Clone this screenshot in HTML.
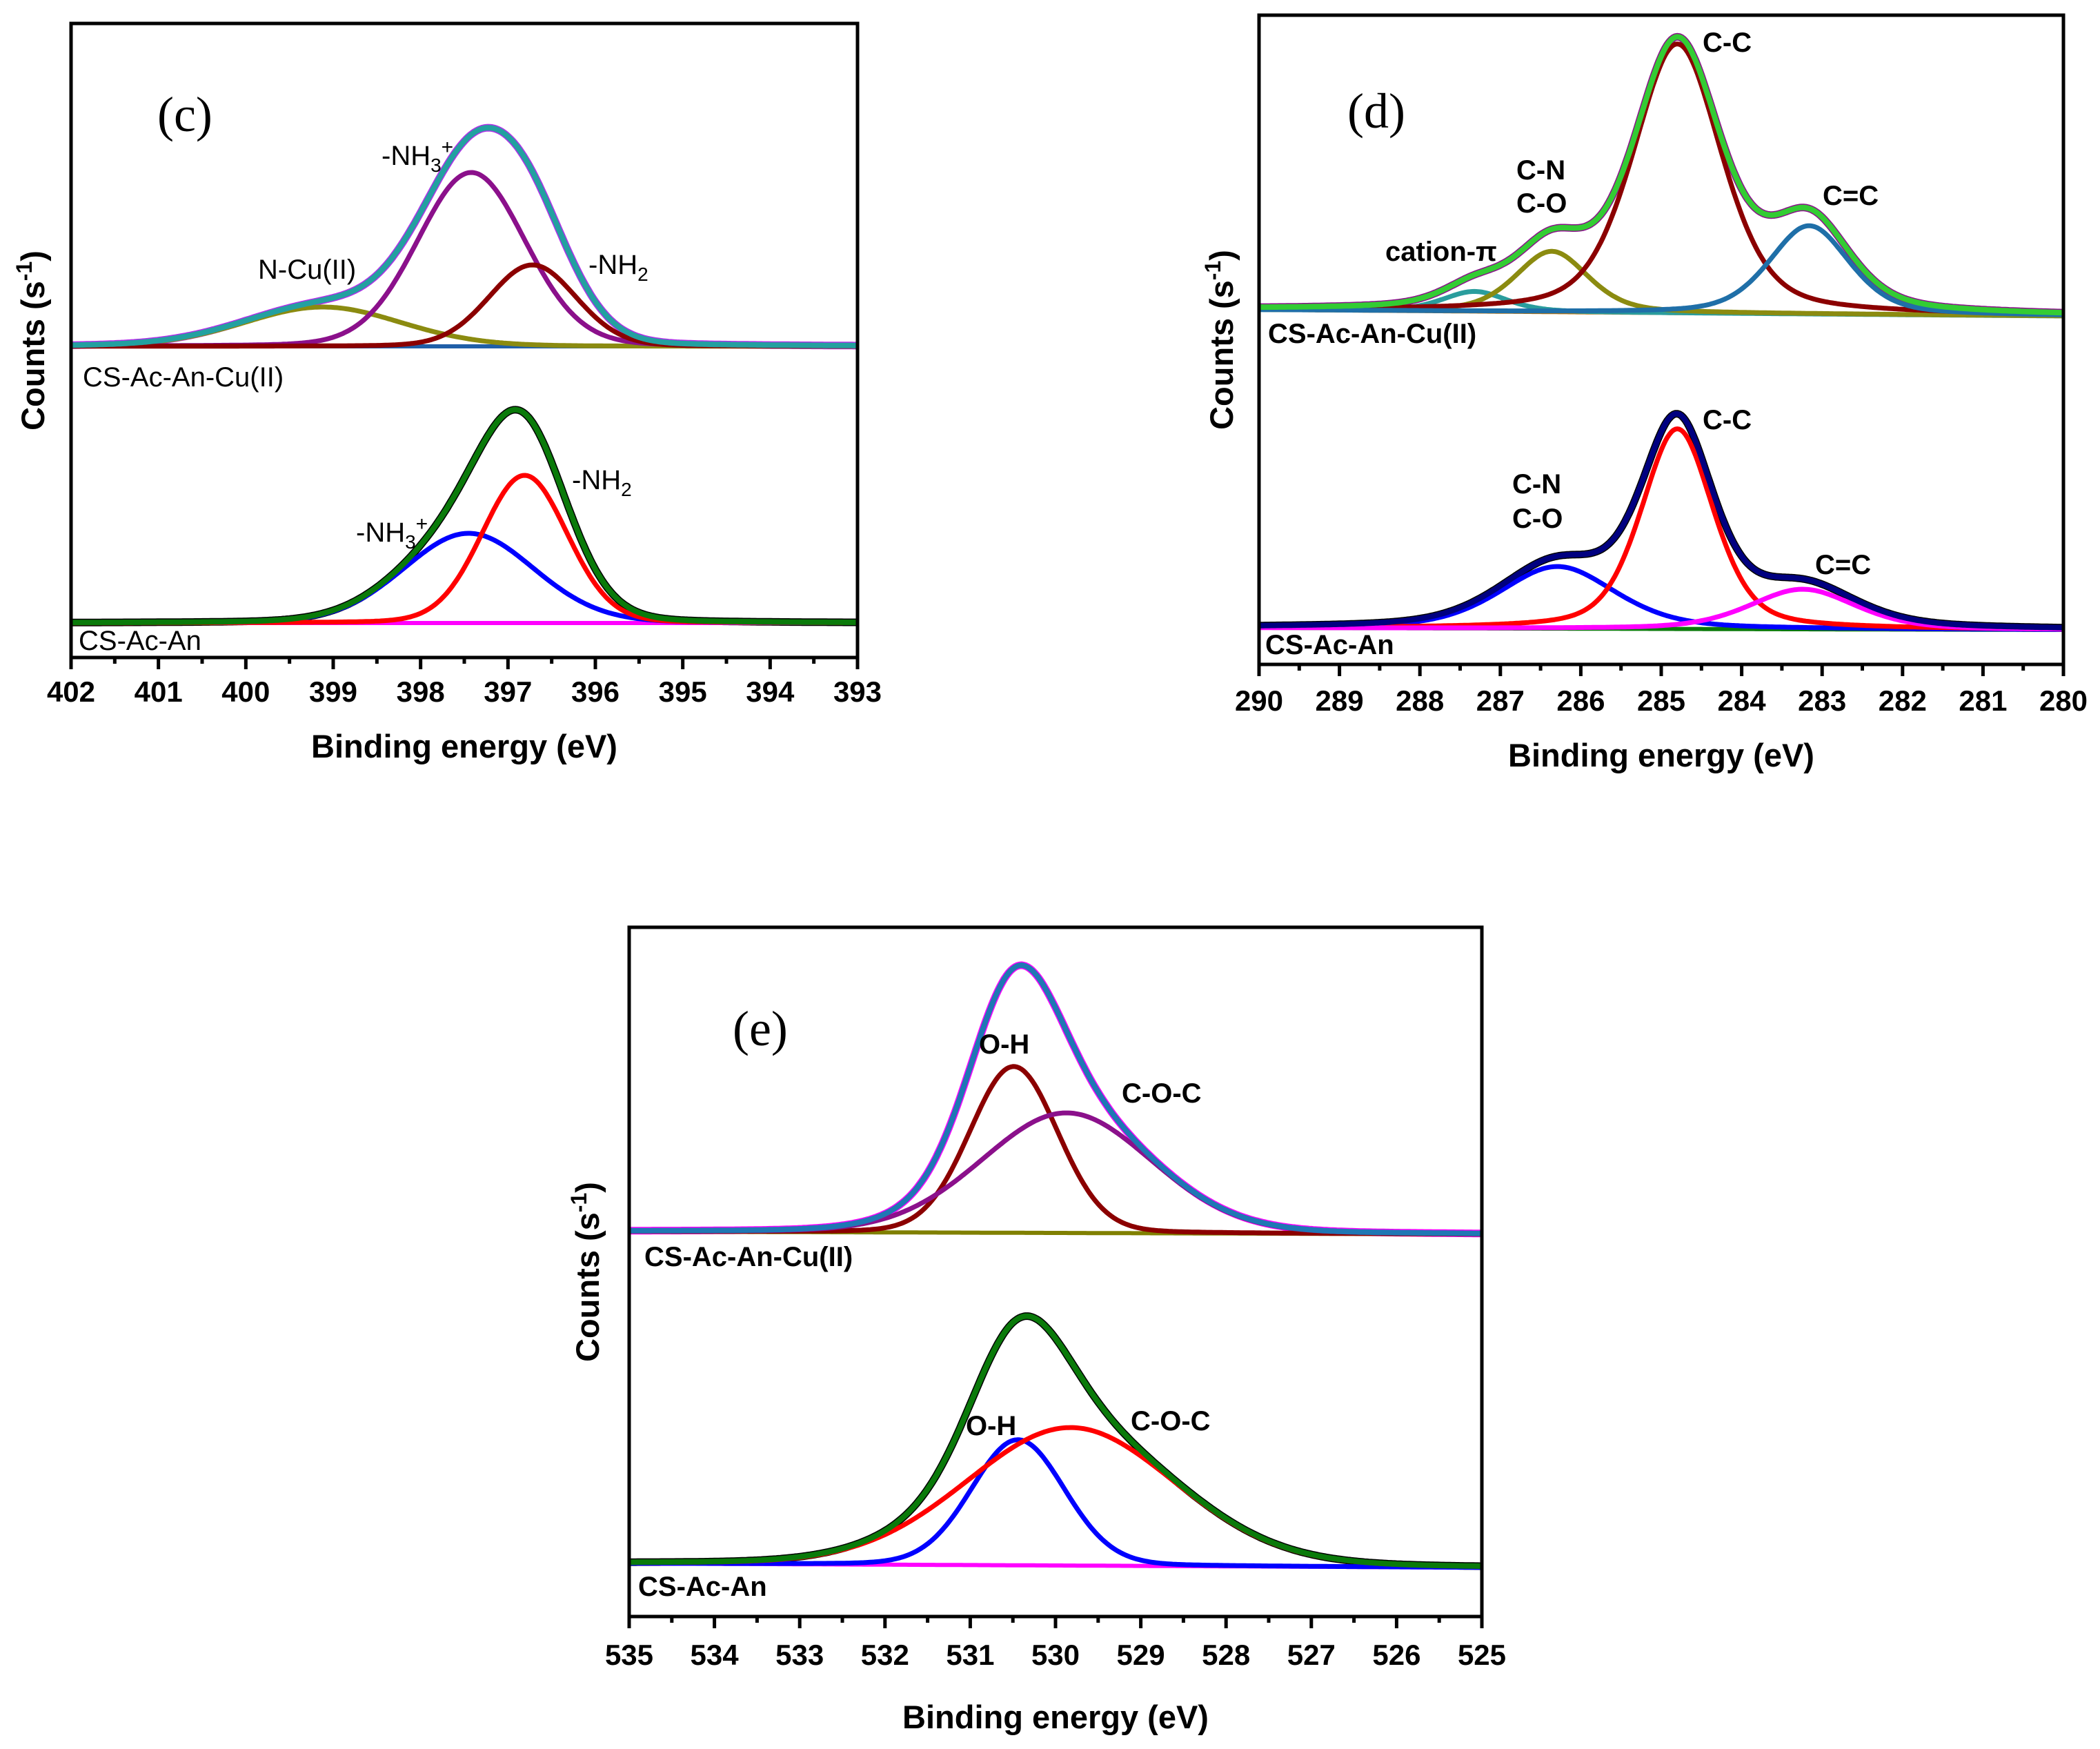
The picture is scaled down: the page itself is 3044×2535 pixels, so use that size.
<!DOCTYPE html>
<html><head><meta charset="utf-8">
<style>
html,body{margin:0;padding:0;background:#fff;}
svg{display:block;}
text{font-family:"Liberation Sans",Arial,sans-serif;fill:#000;}
.tick{font-size:42px;font-weight:bold;}
.title{font-size:47px;font-weight:bold;}
.lab{font-size:40px;}
.labb{font-size:40px;font-weight:bold;}
.ser{font-family:"Liberation Serif",serif;font-size:72px;}
</style></head>
<body>
<svg id="fig" width="3044" height="2535" viewBox="0 0 3044 2535" xmlns="http://www.w3.org/2000/svg"></svg>
<script>
// ---------- Panel (c) N1s ----------
const cTicks=[402,401,400,399,398,397,396,395,394,393];
const cUpperCenters=[399.12,397.42,396.72];
const cUpperHeights=[57,252,118];
const cUpperSigmas=[0.9,0.62,0.5];
const cUpperBaseline=[451,451];
const cLowerCenters=[397.45,396.81];
const cLowerHeights=[130,214];
const cLowerSigmas=[0.75,0.49];
const cLowerBaseline=[50,50];
// ---------- Panel (d) C1s ----------
const dTicks=[290,289,288,287,286,285,284,283,282,281,280];
const dUpperCenters=[287.32,286.36,284.80,283.16];
const dUpperHeights=[29,88,390,128];
const dUpperSigmas=[0.4,0.45,0.55,0.5];
const dUpperBaseline=[514,505];
const dLowerCenters=[286.29,284.80,283.24];
const dLowerHeights=[90,290,58];
const dLowerSigmas=[0.72,0.45,0.66];
const dLowerBaseline=[53,50];
// ---------- Panel (e) O1s ----------
const eTicks=[535,534,533,532,531,530,529,528,527,526,525];
const eUpperCenters=[530.49,529.87];
const eUpperHeights=[241,174];
const eUpperSigmas=[0.52,1.0];
const eUpperBaseline=[558,554];
const eLowerCenters=[530.44,529.82];
const eLowerHeights=[182,200];
const eLowerSigmas=[0.55,1.23];
const eLowerBaseline=[77,71];

const NS="http://www.w3.org/2000/svg";
const fig=document.getElementById('fig');
function mk(tag,attrs,parent){const e=document.createElementNS(NS,tag);for(const k in attrs)e.setAttribute(k,attrs[k]);(parent||fig).appendChild(e);return e;}

function drawPanel(p){
  const g=mk('g',{});
  
  
  const x0=p.box[0],y0=p.box[1],x1=p.box[2],y1=p.box[3];
  const xs=v=>x0+(p.ticks[0]-v)/(p.ticks[0]-p.ticks[p.ticks.length-1])*(x1-x0);
  const ys=v=>y1-v;
  const lo=p.ticks[p.ticks.length-1],hi=p.ticks[0];
  const eta=p.eta||0;
  function base(b,v){return b[0]+(b[1]-b[0])*(hi-v)/(hi-lo);}
  function comp(c,h,s,v){const G=Math.exp(-(v-c)*(v-c)/(2*s*s));const u=(v-c)/(s*1.1774);const L=1/(1+u*u);return h*(eta*L+(1-eta)*G);}
  function curvePath(f){let d='';const N=400;for(let i=0;i<=N;i++){const v=hi-(hi-lo)*i/N;d+=(i?'L':'M')+xs(v).toFixed(1)+' '+ys(f(v)).toFixed(1);}return d;}
  p.series.forEach(sr=>{
    const env=v=>{let s=base(sr.baseline,v);for(let i=0;i<sr.centers.length;i++)s+=comp(sr.centers[i],sr.heights[i],sr.sigmas[i],v);return s;};
    const raw=mk('path',{d:curvePath(env),fill:'none',stroke:sr.raw,'stroke-width':11,'stroke-linejoin':'round'},g);
    
    
    const bl=mk('path',{d:curvePath(v=>base(sr.baseline,v)),fill:'none',stroke:sr.baseColor,'stroke-width':6},g);
    
    
    for(let i=0;i<sr.centers.length;i++){
      const pc=mk('path',{d:curvePath(v=>base(sr.baseline,v)+comp(sr.centers[i],sr.heights[i],sr.sigmas[i],v)),fill:'none',stroke:sr.colors[i],'stroke-width':7,'stroke-linejoin':'round'},g);
      
      
    }
    const en=mk('path',{d:curvePath(env),fill:'none',stroke:sr.envColor,'stroke-width':8,'stroke-linejoin':'round'},g);
    
    
  });
  const fr=mk('rect',{x:x0,y:y0,width:x1-x0,height:y1-y0,fill:'none',stroke:'#000','stroke-width':5},g);
  
  
  p.ticks.forEach((t,i)=>{
    const tk=mk('line',{x1:xs(t),x2:xs(t),y1:y1,y2:y1+17,stroke:'#000','stroke-width':5},g);
    
    
    const tl=mk('text',{x:xs(t),y:p.tickY,'text-anchor':'middle','class':'tick'},g);
    tl.textContent=t;
    
    
    if(i<p.ticks.length-1){
      const mt=mk('line',{x1:xs(t-0.5),x2:xs(t-0.5),y1:y1,y2:y1+9,stroke:'#000','stroke-width':5},g);
      
      
    }
  });
  const xt=mk('text',{x:(x0+x1)/2,y:p.xTitleY,'text-anchor':'middle','class':'title'},g);
  xt.textContent='Binding energy (eV)';
  
  
  const yt=mk('text',{x:0,y:0,'text-anchor':'middle','class':'title',transform:'translate('+p.yTitleX+','+((y0+y1)/2)+') rotate(-90)'},g);
  yt.innerHTML='Counts (s<tspan font-size="32" dy="-18">-1</tspan><tspan dy="18">)</tspan>';
  
  
  p.labels.forEach(l=>{
    const t=mk('text',{x:l[0],y:l[1],'class':l[3]},g);
    t.innerHTML=l[2];
    
    
  });
}
const NH3='-NH<tspan font-size="28" dy="10">3</tspan><tspan font-size="30" dy="-26">+</tspan>';
const NH2='-NH<tspan font-size="28" dy="10">2</tspan>';
drawPanel({name:'panel-c',box:[103,34,1243,953],ticks:cTicks,tickY:1017,xTitleY:1098,yTitleX:64,eta:0.1,
  series:[
   {id:'c-cu',centers:cUpperCenters,heights:cUpperHeights,sigmas:cUpperSigmas,baseline:cUpperBaseline,raw:'#b030e8',envColor:'#23a0a0',baseColor:'#1f5fa8',colors:['#8b8b10','#8b108b','#8b0000']},
   {id:'c-an',centers:cLowerCenters,heights:cLowerHeights,sigmas:cLowerSigmas,baseline:cLowerBaseline,raw:'#000',envColor:'#0a7a0a',baseColor:'#ff00ff',colors:['#0000ff','#ff0000']}],
  labels:[[228,190,'(c)','ser','panel-label-c'],[553,239,NH3,'lab','label-nh3-cu'],[374,404,'N-Cu(II)','lab','label-ncu'],[853,397,NH2,'lab','label-nh2-cu'],
   [120,560,'CS-Ac-An-Cu(II)','lab','sample-label-cu'],[829,709,NH2,'lab','label-nh2'],[516,785,NH3,'lab','label-nh3'],[114,942,'CS-Ac-An','lab','sample-label']]});
drawPanel({name:'panel-d',box:[1825,22,2991,963],ticks:dTicks,tickY:1030,xTitleY:1111,yTitleX:1787,eta:0.4,
  series:[
   {id:'d-cu',centers:dUpperCenters,heights:dUpperHeights,sigmas:dUpperSigmas,baseline:dUpperBaseline,raw:'#8b108b',envColor:'#33cc33',baseColor:'#b8720f',colors:['#2a9d9d','#8b8b10','#8b0000','#1f6fa8']},
   {id:'d-an',centers:dLowerCenters,heights:dLowerHeights,sigmas:dLowerSigmas,baseline:dLowerBaseline,raw:'#000',envColor:'#000080',baseColor:'#0a7a0a',colors:['#0000ff','#ff0000','#ff00ff']}],
  labels:[[1953,185,'(d)','ser','panel-label-d'],[2468,75,'C-C','labb','label-cc-cu'],[2198,260,'C-N','labb','label-cn-cu'],[2198,308,'C-O','labb','label-co-cu'],
   [2008,378,'cation-π','labb','label-cation-pi'],[2642,297,'C=C','labb','label-c=c-cu'],[1838,497,'CS-Ac-An-Cu(II)','labb','sample-label-cu'],
   [2468,622,'C-C','labb','label-cc'],[2192,715,'C-N','labb','label-cn'],[2192,765,'C-O','labb','label-co'],[2631,832,'C=C','labb','label-c=c'],[1834,948,'CS-Ac-An','labb','sample-label']]});
drawPanel({name:'panel-e',box:[912,1344,2148,2343],ticks:eTicks,tickY:2413,xTitleY:2505,yTitleX:868,eta:0.1,
  series:[
   {id:'e-cu',centers:eUpperCenters,heights:eUpperHeights,sigmas:eUpperSigmas,baseline:eUpperBaseline,raw:'#ff00ff',envColor:'#1f77b4',baseColor:'#808000',colors:['#8b0000','#8b108b']},
   {id:'e-an',centers:eLowerCenters,heights:eLowerHeights,sigmas:eLowerSigmas,baseline:eLowerBaseline,raw:'#000',envColor:'#0a7a0a',baseColor:'#ff00ff',colors:['#0000ff','#ff0000']}],
  labels:[[1062,1515,'(e)','ser','panel-label-e'],[1419,1527,'O-H','labb','label-oh-cu'],[1626,1598,'C-O-C','labb','label-coc-cu'],[934,1835,'CS-Ac-An-Cu(II)','labb','sample-label-cu'],
   [1400,2080,'O-H','labb','label-oh'],[1639,2073,'C-O-C','labb','label-coc'],[925,2313,'CS-Ac-An','labb','sample-label']]});
</script>
</body></html>
